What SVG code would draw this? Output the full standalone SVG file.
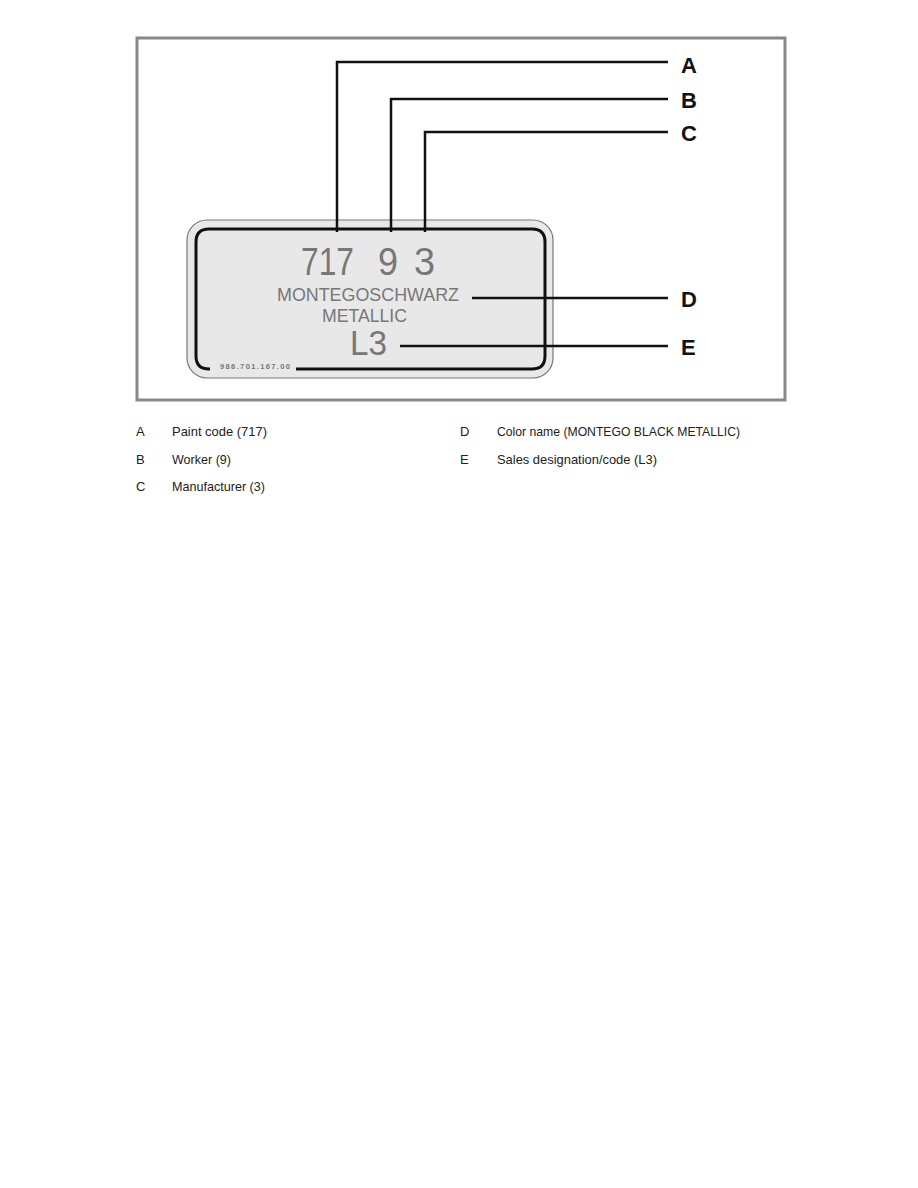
<svg xmlns="http://www.w3.org/2000/svg" width="918" height="1188" viewBox="0 0 918 1188">
<style>
.lead{fill:none;stroke:#111;stroke-width:2.5}
.lbl{font-family:"Liberation Sans",Arial,sans-serif;font-weight:bold;font-size:22px;fill:#111}
.plate{font-family:"Liberation Sans",Arial,sans-serif;fill:#777}
.big{font-size:38px}
.leg{font-family:"Liberation Sans",Arial,sans-serif;font-size:13px;fill:#222}
</style>
<rect width="918" height="1188" fill="#fff"/>
<rect x="137" y="38" width="648" height="362" fill="#fff" stroke="#888" stroke-width="3"/>
<g id="plate">
<rect x="187" y="220" width="366" height="158" rx="20" fill="#e8e8e8" stroke="#777" stroke-width="1.2"/>
<path d="M210,369 L209,369 Q196,369 196,356 L196,242 Q196,229 209,229 L532,229 Q545,229 545,242 L545,356 Q545,369 532,369 L296,369" fill="none" stroke="#111" stroke-width="3"/>
<text class="plate big" x="301" y="275" textLength="53" lengthAdjust="spacingAndGlyphs">717</text>
<text class="plate big" x="378" y="275" textLength="20" lengthAdjust="spacingAndGlyphs">9</text>
<text class="plate big" x="414" y="275" textLength="21" lengthAdjust="spacingAndGlyphs">3</text>
<text class="plate" x="277" y="301" font-size="18" textLength="182" lengthAdjust="spacingAndGlyphs">MONTEGOSCHWARZ</text>
<text class="plate" x="322" y="322" font-size="18" textLength="85" lengthAdjust="spacingAndGlyphs">METALLIC</text>
<text class="plate" x="350" y="355" font-size="35" textLength="37" lengthAdjust="spacingAndGlyphs">L3</text>
<text class="plate" x="220" y="369" font-size="7.5" font-weight="bold" textLength="70">986.701.167.00</text>
</g>
<g id="connectors">
<polyline class="lead" points="337,232 337,62 668,62"/>
<polyline class="lead" points="391,232 391,99 668,99"/>
<polyline class="lead" points="425,232 425,132 668,132"/>
<line class="lead" x1="472" y1="298" x2="668" y2="298"/>
<line class="lead" x1="400" y1="346" x2="668" y2="346"/>
</g>
<g id="labels">
<text class="lbl" x="681" y="73">A</text>
<text class="lbl" x="681" y="108">B</text>
<text class="lbl" x="681" y="141">C</text>
<text class="lbl" x="681" y="307">D</text>
<text class="lbl" x="681" y="355">E</text>
</g>
<g id="legend">
<text class="leg" x="136" y="436">A</text>
<text class="leg" x="172" y="436" textLength="95" lengthAdjust="spacingAndGlyphs">Paint code (717)</text>
<text class="leg" x="136" y="464">B</text>
<text class="leg" x="172" y="464" textLength="59" lengthAdjust="spacingAndGlyphs">Worker (9)</text>
<text class="leg" x="136" y="491">C</text>
<text class="leg" x="172" y="491" textLength="93" lengthAdjust="spacingAndGlyphs">Manufacturer (3)</text>
<text class="leg" x="460" y="436">D</text>
<text class="leg" x="497" y="436" textLength="243" lengthAdjust="spacingAndGlyphs">Color name (MONTEGO BLACK METALLIC)</text>
<text class="leg" x="460" y="464">E</text>
<text class="leg" x="497" y="464" textLength="160" lengthAdjust="spacingAndGlyphs">Sales designation/code (L3)</text>
</g>
</svg>
